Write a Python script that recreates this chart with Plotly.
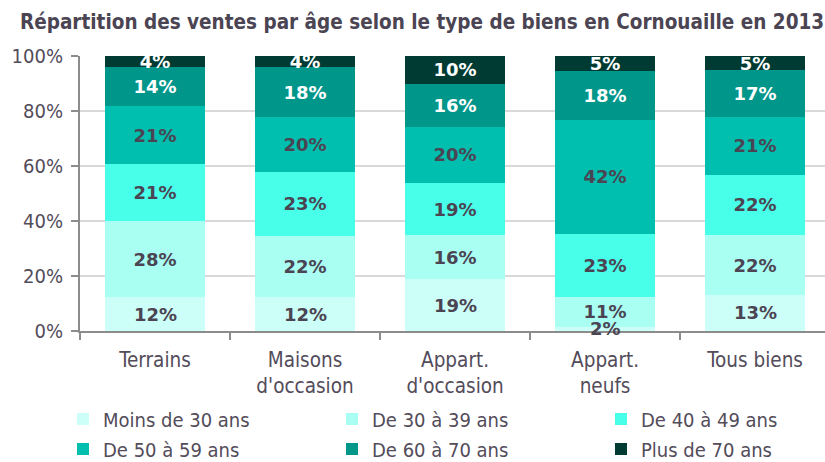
import plotly.graph_objects as go

categories = ["Terrains", "Maisons<br>d'occasion", "Appart.<br>d'occasion", "Appart.<br>neufs", "Tous biens"]

age_groups = ["Moins de 30 ans", "De 30 à 39 ans", "De 40 à 49 ans",
              "De 50 à 59 ans", "De 60 à 70 ans", "Plus de 70 ans"]

# shares (%) per category, bottom to top
moins_30 = [12.3, 12.3, 18.9, 1.6, 13.1]
de_30_39 = [27.6, 22.4, 15.9, 10.7, 21.7]
de_40_49 = [20.7, 23.2, 19.1, 23.0, 22.1]
de_50_59 = [21.3, 20.0, 20.4, 41.6, 21.1]
de_60_70 = [14.1, 18.0, 15.7, 17.8, 16.9]
plus_70 = [4.0, 4.1, 10.0, 5.3, 5.1]

series = [moins_30, de_30_39, de_40_49, de_50_59, de_60_70, plus_70]
colors = ["#CCFFF7", "#AAFFF3", "#48FFEA", "#00BFAE", "#00968A", "#003B33"]
text_colors = ["#4B4453", "#4B4453", "#4B4453", "#4B4453", "#FFFFFF", "#FFFFFF"]

# legend layout: 3 columns x 2 rows (pixel positions of each entry's symbol centre)
legend_cols = [87, 356, 625]
legend_rows = [419, 449]

W, H = 825, 462
legend_ids = ["legend", "legend2", "legend3", "legend4", "legend5", "legend6"]
label_font = dict(family="DejaVu Sans", size=18, weight="bold")

fig = go.Figure()
for i, (name, vals) in enumerate(zip(age_groups, series)):
    # bottom series labels are drawn as annotations so they stay on top (e.g. the tiny 2%)
    txt = [f"{round(v)}%" for v in vals] if i > 0 else None
    fig.add_trace(go.Bar(
        x=categories, y=vals, name=name,
        marker=dict(color=colors[i], line=dict(width=0)),
        text=txt,
        textposition="inside", insidetextanchor="middle", textangle=0,
        textfont=dict(**label_font, color=text_colors[i]),
        cliponaxis=False,
        hoverinfo="skip",
        legend=legend_ids[i],
    ))

annotations = [
    dict(x=c, y=v / 2, xref="x", yref="y", text=f"{round(v)}%", showarrow=False,
         font=dict(**label_font, color=text_colors[0]))
    for c, v in zip(categories, moins_30)
]

grey_text = "#534C5A"
leg_font = dict(family="DejaVu Sans Condensed", size=20, color=grey_text)

legends = {}
for i, lid in enumerate(legend_ids):
    col = legend_cols[i % 3]
    row = legend_rows[i // 3]
    legends[lid] = dict(orientation="h", xref="container", yref="container",
                        x=(col - 24) / W, xanchor="left",
                        y=1 - row / H, yanchor="middle",
                        font=leg_font, bgcolor="rgba(0,0,0,0)", itemclick=False)

fig.update_layout(
    width=W, height=H,
    margin=dict(l=80, r=0, t=56, b=131),
    barmode="stack", bargap=0.333,
    plot_bgcolor="white", paper_bgcolor="white",
    title=dict(text="<b>Répartition des ventes par âge selon le type de biens en Cornouaille en 2013</b>",
               x=20 / W, xanchor="left", xref="container",
               y=1 - 22 / H, yanchor="middle", yref="container",
               font=dict(family="DejaVu Sans Condensed", size=20.5, color="#4B4453")),
    uniformtext=dict(minsize=18, mode="show"),
    annotations=annotations,
    xaxis=dict(range=[-0.5, 4.466], showline=True, linecolor="#8C8C8C", linewidth=2,
               ticks="outside", tickson="boundaries", ticklen=7, tickcolor="#8C8C8C", tickwidth=2,
               tickfont=dict(family="DejaVu Sans Condensed", size=20.5, color=grey_text),
               ticklabelstandoff=9, showgrid=False),
    yaxis=dict(range=[0, 100], dtick=20, ticksuffix="%", showline=True, linecolor="#8C8C8C",
               linewidth=2, ticks="outside", ticklen=7, tickcolor="#8C8C8C", tickwidth=2,
               gridcolor="#D9D9D9", gridwidth=2, zeroline=False,
               tickfont=dict(family="DejaVu Sans Condensed", size=20, color=grey_text),
               ticklabelstandoff=4),
    showlegend=True,
    **legends,
)

fig.write_html("out.html", config={"displayModeBar": False},
               post_script="document.body.style.margin='0';")
